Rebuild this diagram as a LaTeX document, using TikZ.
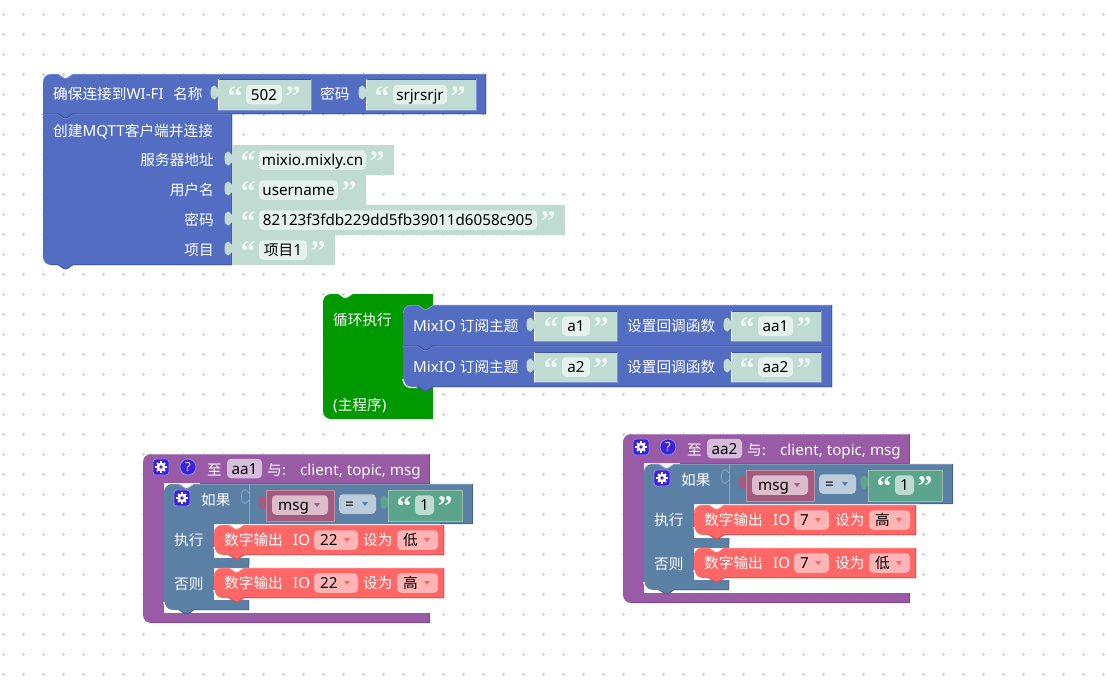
\documentclass[tikz,border=0pt]{standalone}
\usepackage{fontspec}
\setmainfont{Noto Sans}[Scale=1.035]
\newfontfamily\zh{Noto Sans CJK SC}
\newfontfamily\qf{Liberation Serif}
\definecolor{blueF}{HTML}{536DC2}
\definecolor{blueL}{HTML}{8096D4}
\definecolor{blueD}{HTML}{3F549C}
\definecolor{greenF}{HTML}{009900}
\definecolor{purpF}{HTML}{995BA5}
\definecolor{purpL}{HTML}{B58CC0}
\definecolor{purpD}{HTML}{7A4984}
\definecolor{steelF}{HTML}{5B80A5}
\definecolor{steelL}{HTML}{8CA6C0}
\definecolor{steelD}{HTML}{496684}
\definecolor{redF}{HTML}{FF6666}
\definecolor{redL}{HTML}{FF8585}
\definecolor{redD}{HTML}{CC5252}
\definecolor{redV}{HTML}{FFB5B5}
\definecolor{strF}{HTML}{C0DBD1}
\definecolor{strV}{HTML}{E5F1ED}
\definecolor{strQ}{HTML}{EDF6F3}
\definecolor{mintF}{HTML}{5BA58C}
\definecolor{mintL}{HTML}{9DBDB2}
\definecolor{mintV}{HTML}{BDDBD1}
\definecolor{mintQ}{HTML}{F0F7F4}
\definecolor{roseF}{HTML}{A55B80}
\definecolor{roseL}{HTML}{C08CA6}
\definecolor{roseV}{HTML}{DBBDCC}
\definecolor{eqV}{HTML}{BDCCDB}
\definecolor{funV}{HTML}{D6BDDB}
\definecolor{iconF}{HTML}{3A22D6}
\definecolor{iconL}{HTML}{8F86E8}
\tikzset{
  tw/.style={inner sep=0pt,text=white,font=\fontsize{14.67}{16}\selectfont},
  tb/.style={inner sep=0pt,text=black,font=\fontsize{14.67}{16}\selectfont},
  qmark/.style={inner sep=0pt,anchor=base,font=\fontsize{30}{30}\qf\bfseries},
  gridmark/.style={draw=black!20,line width=0.9pt},
}
% white label centred vertically on the given y
\newcommand\wlab[5][base west]{\node[tw,anchor=#1] (#2) at (#3,{#4+6}) {#5};}
% rounded field with text centred in it
\newcommand\cfld[6]{%
  \fill[#2,rounded corners=4pt] (#3,{#5-9.75}) rectangle (#4,{#5+9.75});
  \node[tb,anchor=base] (#1) at ({(#3+#4)/2},{#5+5.5}) {#6};}
% dropdown field: fill, x1, x2, y, name, text, arrow x, arrow colour
\newcommand\dfld[8]{%
  \fill[#1,rounded corners=4pt] (#2,{#4-9.75}) rectangle (#3,{#4+9.75});
  \node[tb,anchor=base west] (#5) at ({#2+6},{#4+5.5}) {#6};
  \fill[#8] ({#7-3},{#4-2}) -- ({#7+3},{#4-2}) -- (#7,{#4+2}) -- cycle;}
% stack block with a notch on top and a tab below
\newcommand\blk[7]{%
  \fill[#1F] (#2,{#3+#6}) .. controls (#2,{#3+0.45*#6}) and ({#2+0.45*#6},#3) .. ({#2+#6},#3)
    -- ({#2+15},#3) -- ({#2+21},{#3+4}) -- ({#2+24},{#3+4}) -- ({#2+30},#3)
    -- (#4,#3) -- (#4,#5) -- ({#2+30},#5) -- ({#2+24},{#5+4}) -- ({#2+21},{#5+4}) -- ({#2+15},#5)
    -- ({#2+#7},#5) .. controls ({#2+0.45*#7},#5) and (#2,{#5-0.45*#7}) .. (#2,{#5-#7}) -- cycle;
  \draw[#1L,line width=0.8pt] ({#2+0.3},{#3+#6}) .. controls ({#2+0.3},{#3+0.45*#6}) and ({#2+0.45*#6},{#3+0.3}) .. ({#2+#6},{#3+0.3})
    -- ({#2+15},{#3+0.3}) -- ({#2+21},{#3+4.3}) -- ({#2+24},{#3+4.3}) -- ({#2+30},{#3+0.3}) -- (#4,{#3+0.3});
  \draw[#1D,line width=0.9pt] ({#4-0.3},#3) -- ({#4-0.3},{#5-0.3}) -- ({#2+30},{#5-0.3}) -- ({#2+24},{#5+3.7}) -- ({#2+21},{#5+3.7}) -- ({#2+15},{#5-0.3}) -- ({#2+#7},{#5-0.3});}
% outline of the puzzle tab on a value block's left side
\newcommand\tabpts[2]{%
  (#1,{#2+3.5}) .. controls ({#1-1.5},{#2+3.5}) and ({#1-1.5},#2) .. ({#1-3.5},#2)
  .. controls ({#1-6},#2) and ({#1-7.5},{#2+2}) .. ({#1-7.5},{#2+7})
  .. controls ({#1-7.5},{#2+12}) and ({#1-6},{#2+14}) .. ({#1-3.5},{#2+14})
  .. controls ({#1-1.5},{#2+14}) and ({#1-1.5},{#2+10.5}) .. (#1,{#2+10.5})}
\newcommand\ptab[3]{\fill[#1] \tabpts{#2}{#3} -- cycle;}
% text value block: name, x1, x2, y1, y2, field x1, field x2, text
\newcommand\strv[8]{%
  \fill[strF] (#2,#4) rectangle (#3,#5);
  \ptab{strF}{#2}{#4+6.5}
  \cfld{#1}{strV}{#6}{#7}{(#4+#5)/2}{#8}
  \node[qmark,text=strQ] (#1-l) at ({#6-11},{(#4+#5)/2+11.5}) {“};
  \node[qmark,text=strQ] (#1-r) at ({#7+11},{(#4+#5)/2+11.5}) {”};}
% edge lines of a text value block seated on a blue block
\newcommand\strframe[4]{%
  \draw[blueD,line width=0.8pt] (#1,#3) -- (#2,#3);
  \draw[blueL,line width=0.8pt] (#2,#3) -- (#2,#4) -- (#1,#4);
  \draw[white,line width=0.8pt] (#1,#3) -- (#1,{#3+9}) (#1,{#4-10}) -- (#1,#4);}
% highlight under a nested block's lower left corner
\newcommand\cornerglow[2]{%
  \draw[white,line width=1.2pt] (#1,{#2-8}) .. controls (#1,{#2-3.6}) and ({#1+3.6},{#2+0.5}) .. ({#1+8},{#2+0.5}) -- ({#1+14},{#2+0.5});}
\newcommand\gearicon[3]{%
  \fill[iconF,draw=iconL,line width=0.8pt,rounded corners=3pt] ({#2-8},{#3-8}) rectangle ({#2+8},{#3+8});
  \foreach \a in {0,45,...,315}
    \draw[white,line width=1.9pt] (#2,#3) -- ++(\a:5.6);
  \fill[white] (#2,#3) circle[radius=4.3];
  \fill[iconF] (#2,#3) circle[radius=1.9];
  \coordinate (#1) at (#2,#3);}
% one red digital output statement
\newcommand\redline[8]{%
  \blk{red}{214}{#2}{#8}{#2+30}{8}{8}
  \cornerglow{214}{#2+30}
  \wlab{#1-a}{224}{#2+14}{{\zh 数字输出}}
  \wlab{#1-b}{293}{#2+14}{IO}
  \dfld{redV}{314}{#5}{#2+15}{#1-pin}{#3}{#5-11}{redF}
  \wlab{#1-c}{#6}{#2+14}{{\zh 设为}}
  \dfld{redV}{#7}{#8-6}{#2+15}{#1-val}{{\zh #4}}{#8-17}{redF}}
% complete callback definition with its if/else body
\newcommand\fngroup[9]{%
  \fill[purpF] (143,462) .. controls (143,457.6) and (146.6,454) .. (151,454) -- (429,454) -- (429,483)
     -- (164,483) -- (164,613) -- (429,613) -- (429,623) -- (151,623) .. controls (146.6,623) and (143,619.4) .. (143,615) -- cycle;
  \draw[purpL,line width=0.8pt] (151,454.3) -- (429,454.3);
  \draw[purpD,line width=0.9pt] (429,454) -- (429,483) -- (200,483);
  \draw[purpD,line width=0.9pt] (429,613) -- (429,622.7) -- (151,622.7);
  \gearicon{#1-g1}{161}{467}
  \fill[iconF,draw=iconL,line width=0.8pt] (188,467) circle[radius=8];
  \node[inner sep=0pt,text=white,font=\fontsize{12}{12}\bfseries,anchor=base] (#1-help) at (188,471.5) {?};
  \wlab{#1-to}{207}{469}{{\zh 至}}
  \cfld{#1-name}{funV}{227}{262}{468.5}{#2}
  \wlab{#1-with}{267}{469}{{\zh 与:}}
  \wlab{#1-args}{300}{469}{client, topic, msg}
  % steel body of the if block
  \fill[steelF] (164,492) .. controls (164,487.6) and (167.6,484) .. (172,484) -- (179,484) -- (185,488) -- (188,488) -- (194,484)
     -- (473,484) -- (473,524) -- (214,524) -- (214,558) -- (249,558) -- (249,568) -- (214,568) -- (214,600) -- (249,600) -- (249,610)
     -- (194,610) -- (188,614) -- (185,614) -- (179,610) -- (172,610) .. controls (167.6,610) and (164,606.4) .. (164,602) -- cycle;
  \draw[steelL,line width=0.8pt] (172,484.3) -- (179,484.3) -- (185,488.3) -- (188,488.3) -- (194,484.3) -- (473,484.3);
  \draw[steelD,line width=0.8pt] (472.7,484) -- (472.7,523.7) -- (440,523.7);
  \draw[steelD,line width=0.8pt] (249,558) -- (248.7,568);
  \draw[steelD,line width=0.8pt] (248.7,600) -- (248.7,609.7) -- (194,609.7) -- (188,613.7) -- (185,613.7) -- (179,609.7) -- (172,609.7);
  \cornerglow{164}{610}
  \draw[steelL,line width=0.7pt] (249,484) -- (249,524);
  \draw[steelL,line width=0.8pt] \tabpts{249}{489.5};
  \gearicon{#1-g2}{182}{498}
  \wlab{#1-if}{201}{499}{{\zh 如果}}
  \wlab{#1-do}{174}{539}{{\zh 执行}}
  \wlab{#1-else}{174}{583}{{\zh 否则}}
  % comparison: msg = "1"
  \ptab{roseF}{266}{495.5}
  \fill[roseF,draw=roseL,line width=0.7pt] (266,490) rectangle (334,521);
  \dfld{roseV}{272}{328}{505}{#1-msg}{msg}{317}{roseF}
  \dfld{eqV}{339}{376}{504}{#1-eq}{=}{365}{steelF}
  \ptab{mintF}{388}{495.5}
  \fill[mintF,draw=mintL,line width=0.7pt] (388,490) rectangle (462,521);
  \cfld{#1-one}{mintV}{415}{434}{505}{1}
  \node[qmark,text=mintQ] (#1-ql) at (404,516.5) {“};
  \node[qmark,text=mintQ] (#1-qr) at (445,516.5) {”};
  % statements in both branches
  \redline{#1-r2}{568}{#3}{#5}{#6}{#7}{#8}{#9}
  \redline{#1-r1}{525}{#3}{#4}{#6}{#7}{#8}{#9}}
\begin{document}
\begin{tikzpicture}[x=1pt,y=-1pt]
\useasboundingbox (0,0) rectangle (1106,691);
\fill[white] (0,0) rectangle (1106,691);
% workspace grid
\foreach \i in {0,...,55}
  \foreach \j in {0,...,34} {
    \draw[gridmark] ({3+20*\i-1.5},{14+20*\j}) -- ({3+20*\i+1.5},{14+20*\j});
    \draw[gridmark] ({3+20*\i},{14+20*\j-1.5}) -- ({3+20*\i},{14+20*\j+1.5});
  }
% network setup stack
\blk{blue}{43}{114}{232}{265}{0}{8}
\blk{blue}{43}{74}{486}{114}{8}{0}
\wlab{wifi}{53}{93}{{\zh 确保连接到}WI-FI}
\wlab{ssidlab}{173}{93}{{\zh 名称}}
\strv{ssid}{218}{311}{79}{110}{246}{282}{502}
\strframe{218}{311}{79}{110}
\wlab{pwlab}{320}{93}{{\zh 密码}}
\strv{pw}{366}{476}{79}{110}{393}{447}{srjrsrjr}
\strframe{366}{476}{79}{110}
\wlab{mqtt}{53}{130}{{\zh 创建}MQTT{\zh 客户端并连接}}
\wlab[base east]{srvlab}{214}{159}{{\zh 服务器地址}}
\wlab[base east]{userlab}{214}{189}{{\zh 用户名}}
\wlab[base east]{keylab}{214}{219}{{\zh 密码}}
\wlab[base east]{projlab}{214}{249}{{\zh 项目}}
\strv{srv}{232}{394}{145}{175}{259}{366}{mixio.mixly.cn}
\strv{user}{232}{366}{175}{205}{259}{338}{username}
\strv{key}{232}{565}{205}{235}{259}{537}{82123f3fdb229dd5fb39011d6058c905}
\strv{proj}{232}{335}{235}{265}{259}{307}{{\zh 项目}1}
% main loop
\fill[greenF] (323,302) .. controls (323,297.6) and (326.6,294) .. (331,294) -- (338,294) -- (344,298) -- (347,298) -- (353,294)
   -- (433,294) -- (433,419) -- (331,419) .. controls (326.6,419) and (323,415.4) .. (323,411) -- cycle;
\wlab{looplab}{333}{319}{{\zh 循环执行}}
\wlab{mainlab}{333}{404}{({\zh 主程序})}
\blk{blue}{403}{346}{832}{387}{0}{8}
\cornerglow{403}{387}
\blk{blue}{403}{305}{832}{346}{8}{0}
\wlab{sub1}{413}{325}{MixIO {\zh 订阅主题}}
\strv{t1}{534}{617}{311}{341}{562}{590}{a1}
\strframe{534}{617}{311}{341}
\wlab{cb1}{627}{325}{{\zh 设置回调函数}}
\strv{f1}{731}{821}{311}{341}{758}{793}{aa1}
\strframe{731}{821}{311}{341}
\wlab{sub2}{413}{366}{MixIO {\zh 订阅主题}}
\strv{t2}{534}{617}{352}{382}{562}{590}{a2}
\strframe{534}{617}{352}{382}
\wlab{cb2}{627}{366}{{\zh 设置回调函数}}
\strv{f2}{731}{821}{352}{382}{758}{793}{aa2}
\strframe{731}{821}{352}{382}
% callbacks
\fngroup{la}{aa1}{22}{低}{高}{358}{363}{397}{444}
\begin{scope}[shift={(480,-20)}]
\fngroup{rb}{aa2}{7}{高}{低}{349}{355}{389}{436}
\end{scope}
\end{tikzpicture}
\end{document}
